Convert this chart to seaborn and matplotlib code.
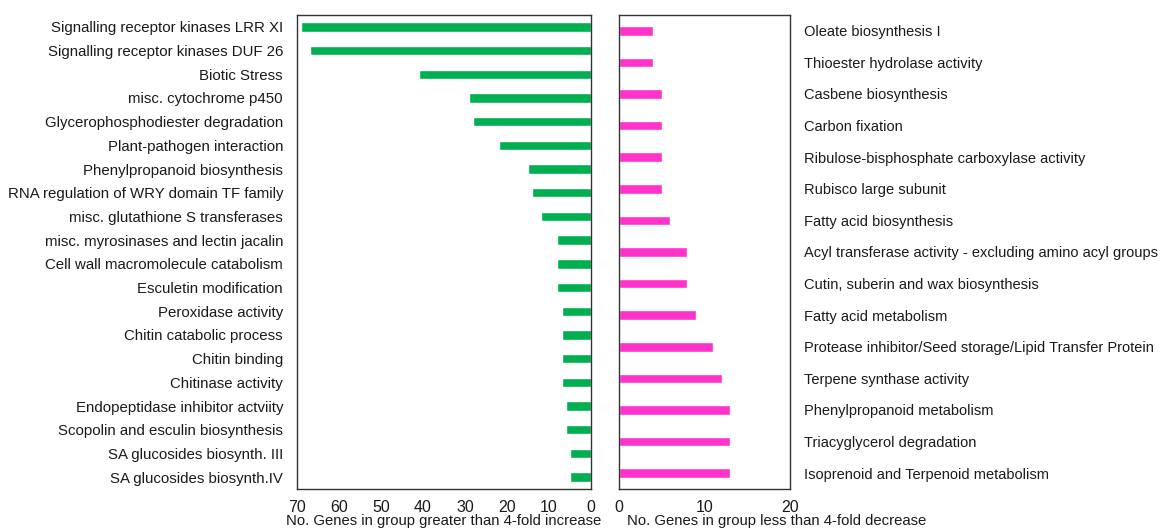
import matplotlib
matplotlib.use("Agg")
import matplotlib.pyplot as plt
import seaborn as sns
import pandas as pd

sns.set_theme(style="white")
plt.rcParams["font.family"] = ["Liberation Sans", "DejaVu Sans"]

# Gene groups with increased expression (> 4-fold)
up_categories = [
    "Signalling receptor kinases LRR XI",
    "Signalling receptor kinases DUF 26",
    "Biotic Stress",
    "misc. cytochrome p450",
    "Glycerophosphodiester degradation",
    "Plant-pathogen interaction",
    "Phenylpropanoid biosynthesis",
    "RNA regulation of WRY domain TF family",
    "misc. glutathione S transferases",
    "misc. myrosinases and lectin jacalin",
    "Cell wall macromolecule catabolism",
    "Esculetin modification",
    "Peroxidase activity",
    "Chitin catabolic process",
    "Chitin binding",
    "Chitinase activity",
    "Endopeptidase inhibitor actviity",
    "Scopolin and esculin biosynthesis",
    "SA glucosides biosynth. III",
    "SA glucosides biosynth.IV",
]
up_counts = [69, 67, 41, 29, 28, 22, 15, 14, 12, 8, 8, 8, 7, 7, 7, 7, 6, 6, 5, 5]

# Gene groups with decreased expression (> 4-fold)
down_categories = [
    "Oleate biosynthesis I",
    "Thioester hydrolase activity",
    "Casbene biosynthesis",
    "Carbon fixation",
    "Ribulose-bisphosphate carboxylase activity",
    "Rubisco large subunit",
    "Fatty acid biosynthesis",
    "Acyl transferase activity - excluding amino acyl groups",
    "Cutin, suberin and wax biosynthesis",
    "Fatty acid metabolism",
    "Protease inhibitor/Seed storage/Lipid Transfer Protein",
    "Terpene synthase activity",
    "Phenylpropanoid metabolism",
    "Triacyglycerol degradation",
    "Isoprenoid and Terpenoid metabolism",
]
down_counts = [4, 4, 5, 5, 5, 5, 6, 8, 8, 9, 11, 12, 13, 13, 13]

up_ticks = [70, 60, 50, 40, 30, 20, 10, 0]
down_ticks = [0, 10, 20]

GREEN = "#00B050"
PINK = "#FF33CC"
TEXT = "#1a1a1a"

up_df = pd.DataFrame({"group": up_categories, "count": up_counts})
down_df = pd.DataFrame({"group": down_categories, "count": down_counts})

fig = plt.figure(figsize=(11.62, 5.31), dpi=100)
W, H = 1162, 531
ax1 = fig.add_axes([297 / W, 1 - 489 / H, (591 - 297) / W, (489 - 15) / H])
ax2 = fig.add_axes([619 / W, 1 - 489 / H, (790 - 619) / W, (489 - 15) / H])

sns.barplot(data=up_df, x="count", y="group", orient="h", color=GREEN,
            width=0.4, saturation=1, ax=ax1)
sns.barplot(data=down_df, x="count", y="group", orient="h", color=PINK,
            width=0.3, saturation=1, ax=ax2)

ax1.set_xlim(70, 0)
ax1.set_xticks(up_ticks)
ax1.set_ylim(len(up_categories) - 0.5, -0.5)
ax2.set_xlim(0, 20)
ax2.set_xticks(down_ticks)
ax2.set_ylim(len(down_categories) - 0.5, -0.5)
ax2.yaxis.tick_right()

ax1.tick_params(axis="y", labelsize=10.8, pad=10)
ax2.tick_params(axis="y", labelsize=10.5, pad=10)
for ax in (ax1, ax2):
    ax.set_ylabel("")
    ax.tick_params(axis="both", length=0, colors=TEXT)
    ax.tick_params(axis="x", labelsize=11.5, pad=8)
    for sp in ax.spines.values():
        sp.set_visible(True)
        sp.set_color("#333333")
        sp.set_linewidth(1.0)
    ax.grid(False)

ax1.set_xlabel("No. Genes in group greater than 4-fold increase", fontsize=10.7,
               color=TEXT, labelpad=-1)
ax2.set_xlabel("No. Genes in group less than 4-fold decrease", fontsize=10.7,
               color=TEXT, labelpad=-1)

# right-hand axis label starts just inside the panel, on the same baseline
fig.canvas.draw()
y1 = ax1.xaxis.label.get_window_extent().y0
ax2.xaxis.set_label_coords(8 / (790 - 619),
                           ax2.transAxes.inverted().transform((0, y1))[1])
ax2.xaxis.label.set_horizontalalignment("left")
ax2.xaxis.label.set_verticalalignment("bottom")

fig.savefig("out.png", dpi=100, facecolor="white")
